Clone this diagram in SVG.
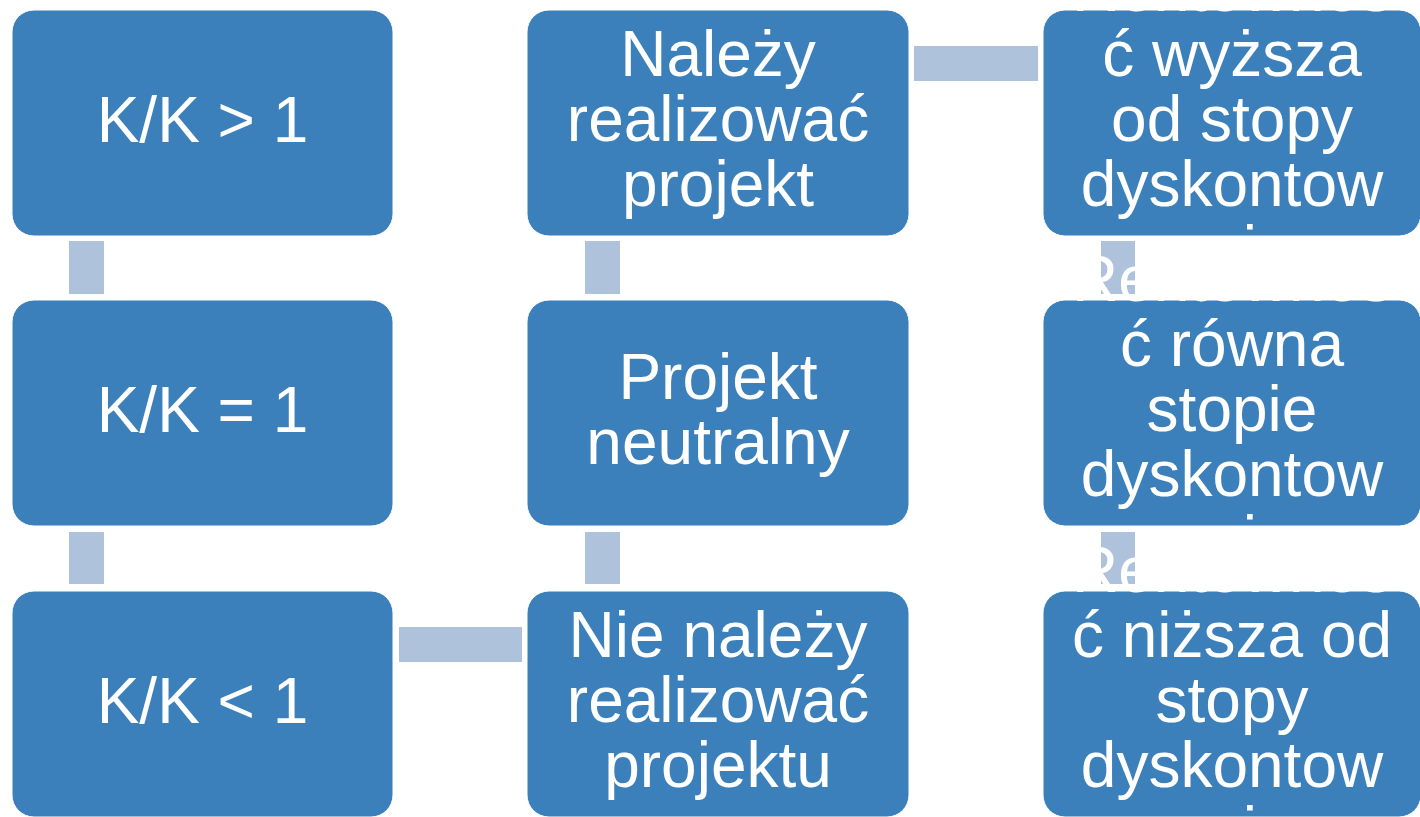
<svg xmlns="http://www.w3.org/2000/svg" width="1420" height="817" viewBox="0 0 1420 817">
<style>
.box{fill:#3B80BA;stroke:#ffffff;stroke-width:1}
.bar{fill:#AFC2DB}
.t{font-family:"Liberation Sans",Arial,sans-serif;font-size:64px;fill:#ffffff;text-anchor:middle}
</style>
<rect width="1420" height="817" fill="#ffffff"/>
<g id="connectors">
<rect class="bar" x="69" y="241" width="35" height="53"/>
<rect class="bar" x="69" y="532" width="35" height="52"/>
<rect class="bar" x="585" y="241" width="35" height="53"/>
<rect class="bar" x="585" y="532" width="35" height="52"/>
<rect class="bar" x="1101" y="241" width="34" height="53"/>
<rect class="bar" x="1101" y="532" width="34" height="52"/>
<rect class="bar" x="399" y="627" width="123" height="35"/>
<rect class="bar" x="914" y="46" width="124" height="35"/>
</g>
<g id="n1">
<rect class="box" x="12" y="10" width="381" height="226" rx="22"/>
<text class="t" x="202.5" y="141.5">K/K &gt; 1</text>
</g>
<g id="n2">
<rect class="box" x="12" y="300" width="381" height="226" rx="22"/>
<text class="t" x="202.5" y="432">K/K = 1</text>
</g>
<g id="n3">
<rect class="box" x="12" y="591" width="381" height="226" rx="22"/>
<text class="t" x="202.5" y="723">K/K &lt; 1</text>
</g>
<g id="n4">
<rect class="box" x="527" y="10" width="382" height="226" rx="22"/>
<text class="t" x="718" y="75.5">Należy</text>
<text class="t" x="718" y="140.5">realizować</text>
<text class="t" x="718" y="205.5">projekt</text>
</g>
<g id="n5">
<rect class="box" x="527" y="300" width="382" height="226" rx="22"/>
<text class="t" x="718" y="398.5">Projekt</text>
<text class="t" x="718" y="463.5">neutralny</text>
</g>
<g id="n6">
<rect class="box" x="527" y="591" width="382" height="226" rx="22"/>
<text class="t" x="718" y="657">Nie należy</text>
<text class="t" x="718" y="722">realizować</text>
<text class="t" x="718" y="787">projektu</text>
</g>
<g id="n7">
<rect class="box" x="1043" y="10" width="378" height="226" rx="22"/>
<text class="t" x="1232" y="10.5">Rentownoś</text>
<text class="t" x="1232" y="75.5">ć wyższa</text>
<text class="t" x="1232" y="140.5">od stopy</text>
<text class="t" x="1232" y="205.5">dyskontow</text>
<text class="t" x="1232" y="270.5">ej</text>
</g>
<g id="n8">
<rect class="box" x="1043" y="300" width="378" height="226" rx="22"/>
<text class="t" x="1232" y="301">Rentownoś</text>
<text class="t" x="1232" y="366">ć równa</text>
<text class="t" x="1232" y="431">stopie</text>
<text class="t" x="1232" y="496">dyskontow</text>
<text class="t" x="1232" y="561">ej</text>
</g>
<g id="n9">
<rect class="box" x="1043" y="591" width="378" height="226" rx="22"/>
<text class="t" x="1232" y="592">Rentownoś</text>
<text class="t" x="1232" y="657">ć niższa od</text>
<text class="t" x="1232" y="722">stopy</text>
<text class="t" x="1232" y="787">dyskontow</text>
<text class="t" x="1232" y="852">ej</text>
</g>
</svg>
